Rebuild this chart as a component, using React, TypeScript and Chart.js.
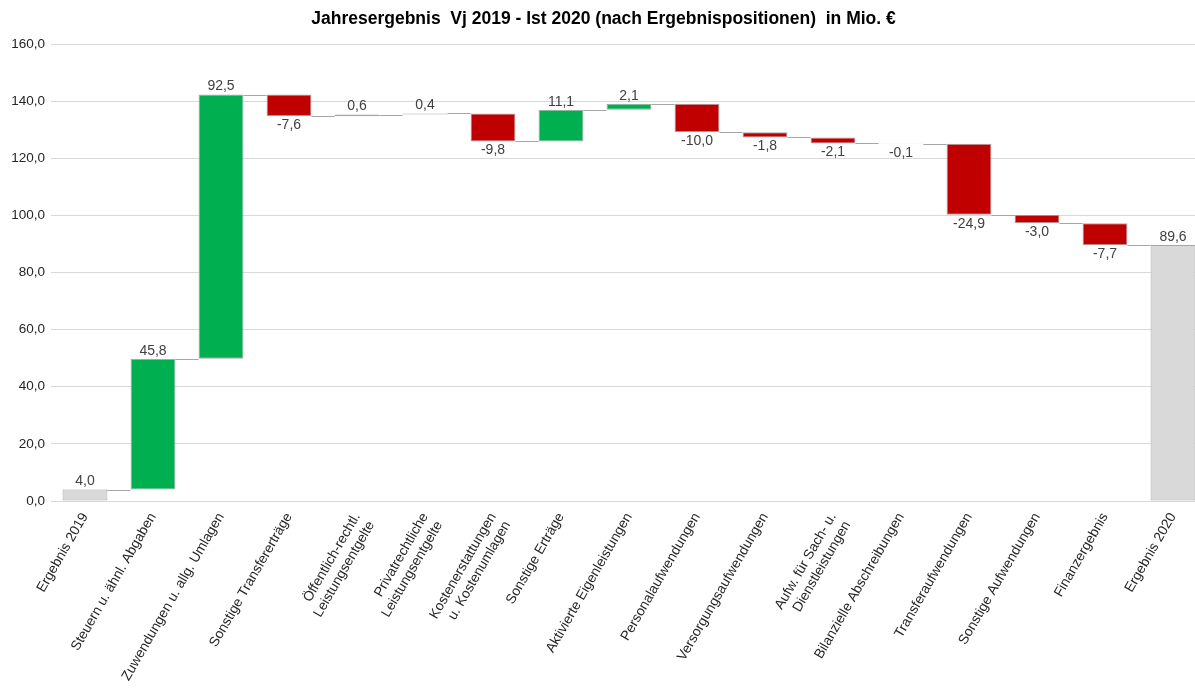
import React, { useEffect, useRef } from "react";
import { Chart, registerables } from "chart.js";

Chart.register(...registerables);

const categories: (string | string[])[] = [
  "Ergebnis 2019",
  "Steuern u. ähnl. Abgaben",
  "Zuwendungen u. allg. Umlagen",
  "Sonstige Transfererträge",
  ["Öffentlich-rechtl.", "Leistungsentgelte"],
  ["Privatrechtliche", "Leistungsentgelte"],
  ["Kostenerstattungen", "u. Kostenumlagen"],
  "Sonstige Erträge",
  "Aktivierte Eigenleistungen",
  "Personalaufwendungen",
  "Versorgungsaufwendungen",
  ["Aufw. für Sach- u.", "Dienstleistungen"],
  "Bilanzielle Abschreibungen",
  "Transferaufwendungen",
  "Sonstige Aufwendungen",
  "Finanzergebnis",
  "Ergebnis 2020",
];

const startValue = 4.0;
const endValue = 89.6;
const deltas = [45.8, 92.5, -7.6, 0.6, 0.4, -9.8, 11.1, 2.1, -10.0, -1.8, -2.1, -0.1, -24.9, -3.0, -7.7];

const yTicks = { min: 0, max: 160, step: 20 };

const TITLE = "Jahresergebnis  Vj 2019 - Ist 2020 (nach Ergebnispositionen)  in Mio. €";

const FONT = "'Liberation Sans', Arial, sans-serif";
const GREEN = "#00b050";
const RED = "#c00000";
const GREY = "#d9d9d9";
const BORDER = "#a6a6a6";

const fmt = (v: number) => v.toFixed(1).replace(".", ",");

export default function App() {
  const ref = useRef<HTMLCanvasElement | null>(null);

  useEffect(() => {
    if (!ref.current) return;
    const floating: [number, number][] = [];
    const labelValues: number[] = [];
    const colors: string[] = [];
    let run = startValue;
    floating.push([0, startValue]);
    labelValues.push(startValue);
    colors.push(GREY);
    deltas.forEach((d) => {
      floating.push([run, run + d]);
      labelValues.push(d);
      colors.push(d >= 0 ? GREEN : RED);
      run += d;
    });
    floating.push([0, endValue]);
    labelValues.push(endValue);
    colors.push(GREY);

    const waterfallPlugin = {
      id: "waterfall",
      afterDatasetsDraw(chart: any) {
        const ctx = chart.ctx;
        const meta = chart.getDatasetMeta(0);
        const y = chart.scales.y;
        ctx.save();
        ctx.strokeStyle = BORDER;
        ctx.lineWidth = 1;
        for (let i = 0; i < meta.data.length - 1; i++) {
          const a = meta.data[i];
          const b = meta.data[i + 1];
          const level = floating[i][1];
          const py = Math.round(y.getPixelForValue(level)) + 0.5;
          ctx.beginPath();
          ctx.moveTo(a.x + a.width / 2, py);
          ctx.lineTo(b.x - b.width / 2, py);
          ctx.stroke();
        }
        ctx.font = `14px ${FONT}`;
        ctx.fillStyle = "#404040";
        ctx.textAlign = "center";
        meta.data.forEach((el: any, i: number) => {
          const v = labelValues[i];
          const top = Math.min(el.y, el.base);
          const bottom = Math.max(el.y, el.base);
          if (v >= 0) {
            ctx.textBaseline = "bottom";
            ctx.fillText(fmt(v), el.x, top - 1);
          } else {
            ctx.textBaseline = "top";
            ctx.fillText(fmt(v), el.x, bottom + 2);
          }
        });
        ctx.restore();
      },
    };

    const chart = new Chart(ref.current, {
      type: "bar",
      data: {
        labels: categories as any,
        datasets: [
          {
            data: floating as any,
            backgroundColor: colors,
            borderColor: BORDER,
            borderWidth: 1,
            borderSkipped: false,
            barPercentage: 0.66,
            categoryPercentage: 1,
          },
        ],
      },
      options: {
        responsive: false,
        animation: false,
        layout: { padding: 0 },
        plugins: {
          legend: { display: false },
          tooltip: { enabled: false },
          title: {
            display: true,
            text: TITLE,
            color: "#000000",
            font: { family: FONT, size: 17.5, weight: "bold", lineHeight: 1.2 },
            padding: { top: 9, bottom: 14 },
          },
        },
        scales: {
          x: {
            grid: { display: false, drawTicks: false },
            border: { display: false },
            ticks: {
              autoSkip: false,
              minRotation: 60,
              maxRotation: 60,
              padding: 9,
              color: "#262626",
              font: { family: FONT, size: 13.8 },
            },
            afterFit: (scale: any) => {
              scale.height = 198;
            },
          },
          y: {
            min: yTicks.min,
            max: yTicks.max,
            grid: { color: "#d9d9d9", drawTicks: false },
            border: { display: false },
            ticks: {
              stepSize: yTicks.step,
              padding: 6,
              color: "#262626",
              font: { family: FONT, size: 13.5 },
              callback: (v: any) => fmt(Number(v)),
            },
            afterFit: (scale: any) => {
              scale.width = 51;
            },
          },
        },
      },
      plugins: [waterfallPlugin],
    });
    return () => chart.destroy();
  }, []);

  return (
    <div
      style={{
        position: "fixed",
        left: 0,
        top: 0,
        width: 1195,
        height: 699,
        overflow: "hidden",
        background: "#ffffff",
      }}
    >
      <canvas ref={ref} width={1207} height={699} style={{ display: "block" }} />
    </div>
  );
}
